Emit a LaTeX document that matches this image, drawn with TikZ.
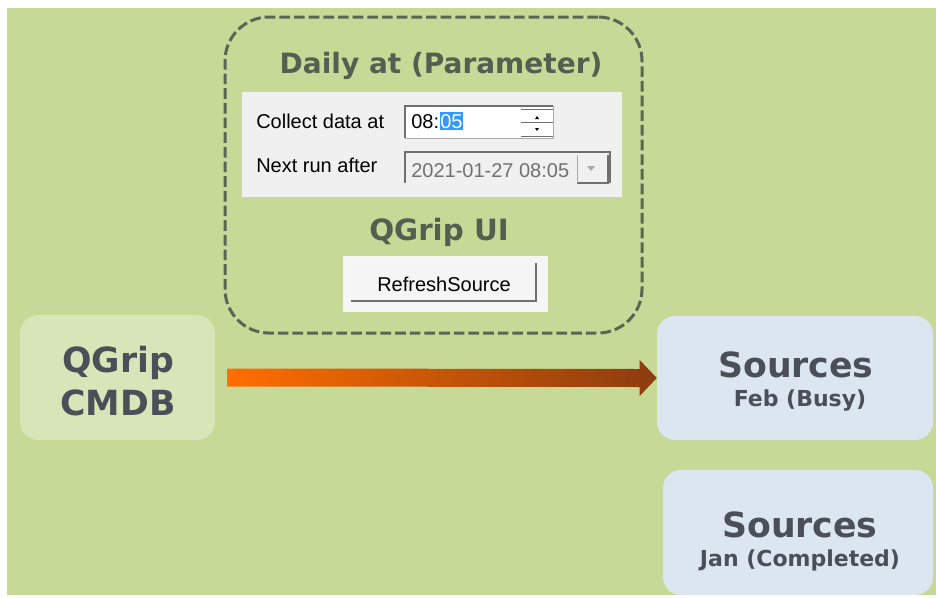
\documentclass[tikz,border=0pt]{standalone}
\usepackage{fontspec}
\setmainfont{DejaVu Sans}
\newfontfamily\uifont{Liberation Sans}
\usetikzlibrary{calc}
\definecolor{bggreen}{RGB}{198,217,150}
\definecolor{cmdbfill}{RGB}{215,229,184}
\definecolor{srcfill}{RGB}{220,230,240}
\definecolor{darktext}{RGB}{75,80,88}
\definecolor{titlegray}{RGB}{85,95,80}
\definecolor{dashgray}{RGB}{90,102,84}
\definecolor{panelgray}{RGB}{240,240,240}
\definecolor{edgegray}{RGB}{112,112,112}
\definecolor{lightedge}{RGB}{170,170,170}
\definecolor{selblue}{RGB}{51,153,255}
\definecolor{arrowA}{RGB}{255,110,0}
\definecolor{arrowB}{RGB}{140,60,15}
\begin{document}
\begin{tikzpicture}[x=0.75pt, y=-0.75pt,
  box/.style={rounded corners=13.5pt, inner sep=0pt},
  big/.style={font=\bfseries\fontsize{26pt}{28pt}\selectfont, text=darktext, inner sep=0pt},
  sub/.style={font=\bfseries\fontsize{16.5pt}{18pt}\selectfont, text=darktext, inner sep=0pt},
  head/.style={font=\bfseries\fontsize{21pt}{24pt}\selectfont, text=titlegray, inner sep=0pt},
  ui/.style={font=\uifont\fontsize{15pt}{17pt}\selectfont, inner sep=0pt}]
  \useasboundingbox (0,0) rectangle (936,597);
  \fill[white] (0,0) rectangle (936,597);
  \fill[bggreen] (7,8) rectangle (936,595);

  \node[draw=dashgray, line width=2.25pt, dash pattern=on 8pt off 3pt, rounded corners=33pt,
    minimum width=312.75pt, minimum height=237pt] (uibox) at (433.5,175) {};
  \node[head, anchor=base] (daily) at (441,73) {Daily at (Parameter)};
  \node[fill=panelgray, minimum width=285pt, minimum height=78.75pt, inner sep=0pt] (panel) at (432,144.5) {};
  \node[ui, anchor=base west] (collect) at (256,128) {Collect data at};
  \node[ui, anchor=base west] (nextrun) at (256,172) {Next run after};

  \fill[white] (405,106) rectangle (553,138);
  \draw[lightedge] (405,138) -- (553,138) -- (553,106);
  \draw[edgegray, line width=1.2pt] (405,138) -- (405,106) -- (553,106);
  \node[ui, anchor=base west] (hours) at (411,128) {08:};
  \node[ui, anchor=base west, fill=selblue, text=white, inner ysep=1.5pt, inner xsep=0.5pt] (mins) at (hours.base east) {05};
  \draw[edgegray] (521,109) -- (553,109) (521,122) -- (553,122) (521,136) -- (553,136);
  \fill[black] (535,119) -- (539,119) -- (537,116) -- cycle;
  \fill[black] (535,128) -- (539,128) -- (537,131) -- cycle;

  \fill[panelgray] (405,152) rectangle (610,183);
  \draw[edgegray, line width=1.2pt] (405,183) -- (405,152) -- (610,152) -- (610,183);
  \node[ui, anchor=base west, text=edgegray] (date) at (411,177) {2021-01-27 08:05};
  \draw[edgegray, line width=1.2pt] (577,183) -- (608,183) -- (608,155);
  \draw[lightedge] (577,155) -- (577,183);
  \fill[lightedge] (587,166) -- (595,166) -- (591,171) -- cycle;

  \node[head, anchor=base, font=\bfseries\fontsize{22pt}{24pt}\selectfont] (qgripui) at (439,240) {QGrip UI};
  \node[fill=panelgray!60!white, minimum width=153.75pt, minimum height=42pt, inner sep=0pt] (btnpanel) at (445.5,284) {};
  \fill[panelgray!70!white] (351,263) rectangle (536,302);
  \draw[edgegray, line width=1.5pt] (351,301) -- (536,301) -- (536,263);
  \node[ui, anchor=base] (refresh) at (444,291) {RefreshSource};

  \node[box, fill=cmdbfill, minimum width=146.25pt, minimum height=93.75pt] (cmdb) at (117.5,377.5) {};
  \node[big, anchor=base] (qgrip) at (118,372) {QGrip};
  \node[big, anchor=base] (cmdbtxt) at (118,415) {CMDB};

  \node[box, fill=srcfill, minimum width=207pt, minimum height=93pt] (feb) at (795,378) {};
  \node[big, anchor=base] (febsrc) at (796,377) {Sources};
  \node[sub, anchor=base] (febtxt) at (800,406) {Feb (Busy)};

  \node[box, fill=srcfill, minimum width=202.5pt, minimum height=93.75pt] (jan) at (798,532.5) {};
  \node[big, anchor=base] (jansrc) at (800,537) {Sources};
  \node[sub, anchor=base] (jantxt) at (800,566) {Jan (Completed)};

  \coordinate (s) at ($(cmdb.east)+(12,0)$);
  \coordinate (t) at (feb.west);
  \shade[left color=arrowA, right color=arrowB] ($(s)+(0,-9)$) -- ($(t)+(-17,-9)$) -- ($(t)+(-17,-18)$)
    -- (t) -- ($(t)+(-17,18)$) -- ($(t)+(-17,9)$) -- ($(s)+(0,9)$) -- cycle;
\end{tikzpicture}
\end{document}
